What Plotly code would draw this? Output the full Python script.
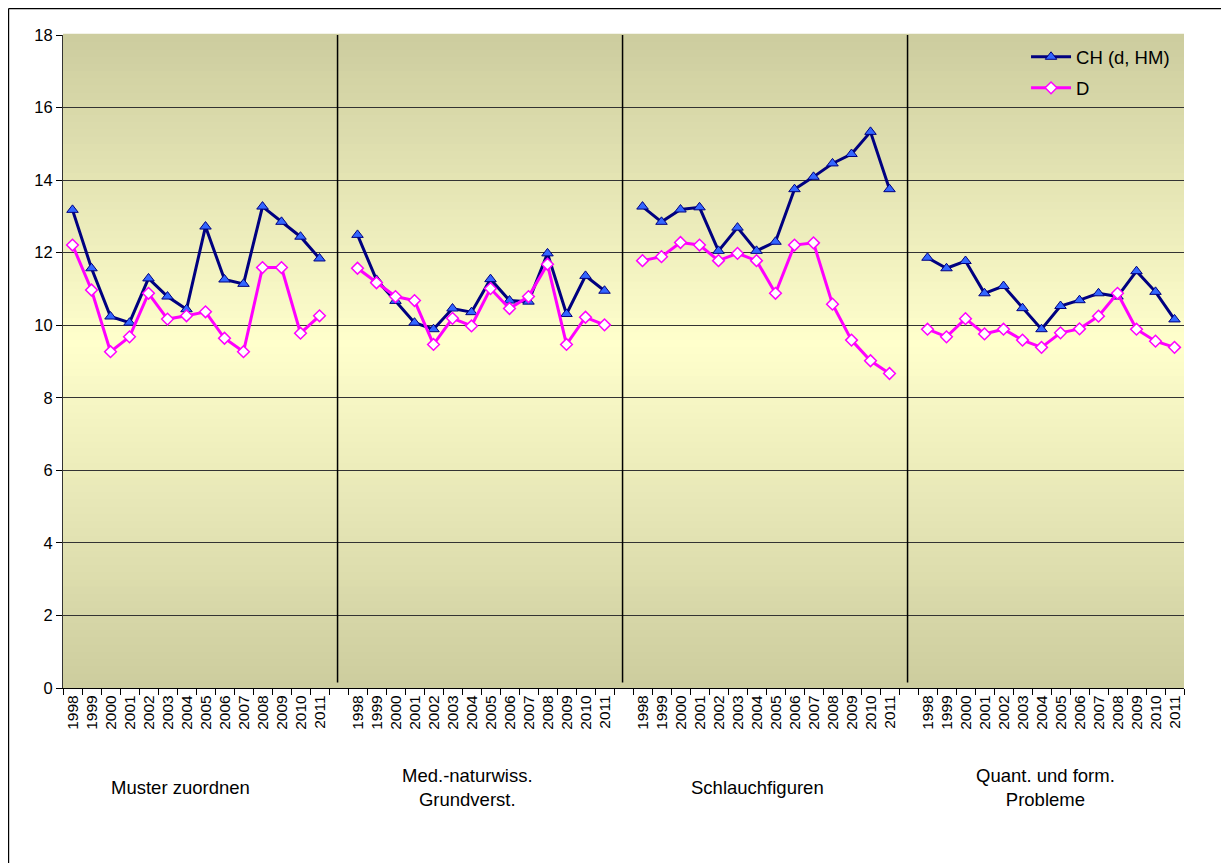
import plotly.graph_objects as go

# ---------------- data ----------------
years = ["1998", "1999", "2000", "2001", "2002", "2003", "2004",
         "2005", "2006", "2007", "2008", "2009", "2010", "2011"]
groups = ["Muster zuordnen", "Med.-naturwiss.<br>Grundverst.",
          "Schlauchfiguren", "Quant. und form.<br>Probleme"]
series_names = ["CH (d, HM)", "D"]

ch_muster = [13.18, 11.57, 10.24, 10.07, 11.29, 10.79, 10.44, 12.72, 11.26, 11.14, 13.27, 12.85, 12.44, 11.84]
ch_med = [12.49, 11.25, 10.67, 10.07, 9.89, 10.46, 10.36, 11.27, 10.68, 10.65, 11.98, 10.31, 11.36, 10.95]
ch_schlauch = [13.27, 12.85, 13.19, 13.25, 12.05, 12.69, 12.05, 12.30, 13.75, 14.09, 14.46, 14.72, 15.33, 13.75]
ch_quant = [11.86, 11.57, 11.77, 10.88, 11.08, 10.47, 9.89, 10.53, 10.69, 10.88, 10.79, 11.49, 10.92, 10.16]

d_muster = [12.21, 10.97, 9.27, 9.68, 10.88, 10.17, 10.26, 10.37, 9.64, 9.27, 11.59, 11.59, 9.78, 10.26]
d_med = [11.57, 11.17, 10.79, 10.68, 9.47, 10.19, 9.98, 11.01, 10.46, 10.79, 11.68, 9.47, 10.22, 10.01]
d_schlauch = [11.78, 11.89, 12.28, 12.21, 11.78, 11.98, 11.78, 10.88, 12.21, 12.27, 10.58, 9.59, 9.02, 8.67]
d_quant = [9.89, 9.68, 10.18, 9.76, 9.89, 9.59, 9.39, 9.79, 9.90, 10.25, 10.88, 9.89, 9.56, 9.39]

ch_values = [ch_muster, ch_med, ch_schlauch, ch_quant]
d_values = [d_muster, d_med, d_schlauch, d_quant]

y_ticks = [0, 2, 4, 6, 8, 10, 12, 14, 16, 18]

# ---------------- layout helpers ----------------
slot = len(years) + 1          # one empty slot between groups
n_slots = slot * len(groups) - 1

fig = go.Figure()

def group_x(g):
    return [g * slot + j for j in range(len(years))]

FONT = "Arial, Liberation Sans, sans-serif"

for g in range(len(groups)):
    fig.add_trace(go.Scatter(
        x=group_x(g), y=ch_values[g], mode="lines+markers",
        name=series_names[0], legendgroup="ch", showlegend=(g == 0),
        line=dict(color="#000080", width=3),
        marker=dict(symbol="triangle-up", size=10, color="#3366FF",
                    line=dict(color="#000080", width=1)),
    ))
for g in range(len(groups)):
    fig.add_trace(go.Scatter(
        x=group_x(g), y=d_values[g], mode="lines+markers",
        name=series_names[1], legendgroup="d", showlegend=(g == 0),
        line=dict(color="#FF00FF", width=3),
        marker=dict(symbol="diamond", size=9, color="#FFFFFF",
                    line=dict(color="#FF00FF", width=1.5)),
    ))

# ---------------- background gradient (style only) ----------------
edge = (204, 204, 158)
center = (255, 255, 204)
n_bands = 90
c_pos = 0.53
shapes = []
for i in range(n_bands):
    y0 = i / n_bands
    y1 = (i + 1) / n_bands
    ym = (y0 + y1) / 2
    t = abs(ym - c_pos) / (c_pos if ym < c_pos else (1 - c_pos))
    col = tuple(round(center[k] + (edge[k] - center[k]) * t) for k in range(3))
    shapes.append(dict(type="rect", xref="paper", yref="paper",
                       x0=0, x1=1, y0=y0, y1=y1 + 0.002, layer="below",
                       line=dict(width=0), fillcolor="rgb(%d,%d,%d)" % col))

# group separators
for g in range(1, len(groups)):
    shapes.append(dict(type="line", xref="x", yref="y",
                       x0=g * slot - 1.05, x1=g * slot - 1.05, y0=0.15, y1=max(y_ticks),
                       line=dict(color="#000000", width=1.5), layer="above"))

# outer frame (left and top edges visible)
fx = -54.4 / 1121
fy = 1 + 26.4 / 653
shapes.append(dict(type="line", xref="paper", yref="paper",
                   x0=fx, x1=1.2, y0=fy, y1=fy,
                   line=dict(color="#000000", width=1.2)))
shapes.append(dict(type="line", xref="paper", yref="paper",
                   x0=fx, x1=fx, y0=fy, y1=-0.4,
                   line=dict(color="#000000", width=1.2)))

# ---------------- category labels ----------------
label_x = [5.67, 20.78, 36.04, 51.2]
annotations = []
for g, name in enumerate(groups):
    annotations.append(dict(text=name, x=label_x[g], xref="x",
                            y=-0.152, yref="paper", showarrow=False,
                            xanchor="center", yanchor="middle", align="center",
                            font=dict(family=FONT, size=18.5, color="#000000")))

tickvals = [g * slot + j for g in range(len(groups)) for j in range(len(years))]
ticktext = [y for g in range(len(groups)) for y in years]

fig.update_layout(
    width=1221, height=855,
    margin=dict(l=55, r=45, t=27, b=175),
    paper_bgcolor="#FFFFFF",
    plot_bgcolor="rgb(204,204,158)",
    shapes=shapes,
    annotations=annotations,
    showlegend=True,
    legend=dict(x=0.992, y=0.995, xanchor="right", yanchor="top",
                bgcolor="rgba(0,0,0,0)", borderwidth=0,
                font=dict(family=FONT, size=18.5, color="#000000"),
                tracegroupgap=4, itemwidth=40),
    font=dict(family=FONT, color="#000000"),
)

fig.update_xaxes(
    range=[-0.5, n_slots - 0.5],
    tickmode="array", tickvals=tickvals, ticktext=ticktext,
    tickangle=-90, ticks="", ticklen=0,
    tickfont=dict(family=FONT, size=15.5, color="#000000"),
    showgrid=False, zeroline=False,
    showline=True, linecolor="#000000", linewidth=1.2,
    minor=dict(ticks="outside", tick0=-0.5, dtick=1, ticklen=6,
               tickcolor="#000000", tickwidth=1, showgrid=False),
)
fig.update_yaxes(
    range=[0, 18], tickmode="array", tickvals=y_ticks,
    ticks="outside", ticklen=6, tickcolor="#000000",
    tickfont=dict(family=FONT, size=16.5, color="#000000"),
    showgrid=True, gridcolor="#333333", gridwidth=1,
    zeroline=False,
    showline=True, linecolor="#333333", linewidth=1.2,
)

fig.write_html("out.html")
